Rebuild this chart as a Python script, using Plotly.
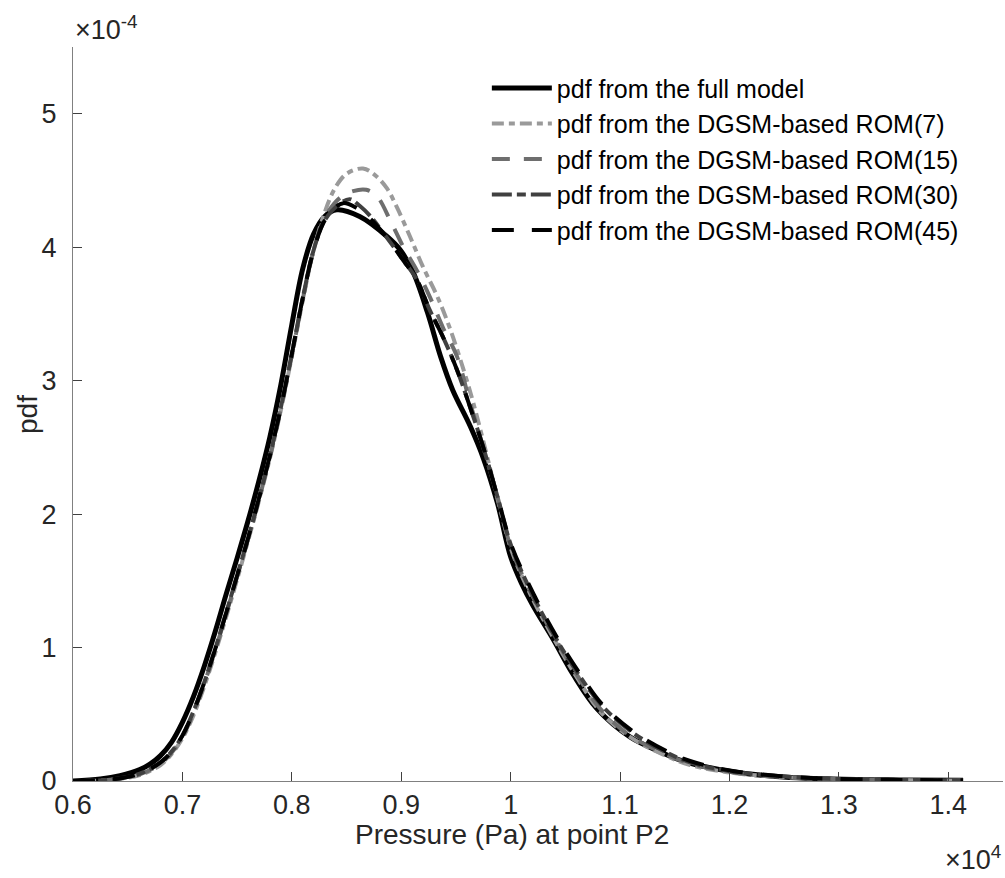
import plotly.graph_objects as go

# x in units of 1e4 Pa, y (pdf) in units of 1e-4
full_x = [0.600, 0.625, 0.643, 0.661, 0.671, 0.680, 0.690, 0.700, 0.710, 0.720, 0.730, 0.740, 0.750,
          0.760, 0.770, 0.780, 0.790, 0.800, 0.810, 0.820, 0.830, 0.841, 0.862, 0.887, 0.899, 0.911,
          0.924, 0.936, 0.947, 0.963, 0.975, 0.988, 1.000, 1.010, 1.020, 1.039, 1.057, 1.079, 1.109,
          1.139, 1.161, 1.203, 1.249, 1.295, 1.356, 1.4135]
full_y = [0.0, 0.015, 0.04, 0.085, 0.13, 0.19, 0.29, 0.44, 0.63, 0.86, 1.12, 1.40, 1.67,
          1.95, 2.25, 2.58, 2.97, 3.42, 3.84, 4.10, 4.23, 4.28, 4.23, 4.08, 3.98, 3.81,
          3.51, 3.18, 2.93, 2.66, 2.42, 2.08, 1.68, 1.48, 1.32, 1.06, 0.80, 0.54, 0.33,
          0.21, 0.14, 0.07, 0.03, 0.015, 0.008, 0.005]

rom7_x = [0.600, 0.634, 0.661, 0.680, 0.690, 0.700, 0.710, 0.720, 0.730, 0.740, 0.750, 0.760, 0.770,
          0.780, 0.790, 0.800, 0.810, 0.820, 0.830, 0.840, 0.850, 0.865, 0.876, 0.887, 0.896, 0.908,
          0.920, 0.933, 0.945, 0.957, 0.966, 0.981, 0.990, 1.002, 1.021, 1.042, 1.061, 1.082, 1.109,
          1.139, 1.164, 1.203, 1.249, 1.295, 1.356, 1.4135]
rom7_y = [0.0, 0.008, 0.045, 0.12, 0.20, 0.32, 0.49, 0.71, 0.96, 1.23, 1.51, 1.80, 2.10,
          2.42, 2.78, 3.18, 3.60, 3.98, 4.26, 4.45, 4.55, 4.59, 4.54, 4.44, 4.30, 4.08,
          3.85, 3.63, 3.38, 3.08, 2.83, 2.35, 2.05, 1.70, 1.35, 1.03, 0.77, 0.52, 0.33,
          0.20, 0.12, 0.06, 0.03, 0.014, 0.007, 0.004]

rom15_x = [0.600, 0.634, 0.661, 0.680, 0.690, 0.700, 0.710, 0.720, 0.730, 0.740, 0.750, 0.760, 0.770,
           0.780, 0.790, 0.800, 0.810, 0.820, 0.830, 0.844, 0.856, 0.868, 0.878, 0.890, 0.902, 0.914,
           0.926, 0.938, 0.951, 0.963, 0.975, 0.988, 1.001, 1.021, 1.042, 1.061, 1.082, 1.109, 1.139,
           1.164, 1.203, 1.249, 1.295, 1.356, 1.4135]
rom15_y = [0.0, 0.01, 0.05, 0.13, 0.21, 0.33, 0.51, 0.73, 0.98, 1.25, 1.53, 1.81, 2.11,
           2.43, 2.79, 3.19, 3.61, 3.98, 4.22, 4.37, 4.42, 4.43, 4.38, 4.20, 4.00, 3.83,
           3.63, 3.40, 3.18, 2.83, 2.50, 2.13, 1.73, 1.37, 1.05, 0.79, 0.54, 0.34, 0.21,
           0.13, 0.065, 0.03, 0.015, 0.008, 0.005]

rom30_x = [0.600, 0.634, 0.661, 0.680, 0.690, 0.700, 0.710, 0.720, 0.730, 0.740, 0.750, 0.760, 0.770,
           0.780, 0.790, 0.800, 0.810, 0.820, 0.830, 0.843, 0.853, 0.862, 0.872, 0.887, 0.902, 0.914,
           0.926, 0.938, 0.951, 0.963, 0.975, 0.988, 1.001, 1.021, 1.042, 1.062, 1.084, 1.112, 1.141,
           1.164, 1.203, 1.249, 1.295, 1.356, 1.4135]
rom30_y = [0.0, 0.01, 0.055, 0.14, 0.22, 0.34, 0.52, 0.74, 0.99, 1.26, 1.54, 1.82, 2.12,
           2.44, 2.80, 3.20, 3.62, 3.98, 4.20, 4.32, 4.36, 4.31, 4.23, 4.07, 3.90, 3.76,
           3.53, 3.33, 3.08, 2.80, 2.50, 2.13, 1.75, 1.38, 1.06, 0.80, 0.56, 0.36, 0.22,
           0.14, 0.07, 0.035, 0.016, 0.008, 0.005]

rom45_x = [0.600, 0.634, 0.661, 0.680, 0.690, 0.700, 0.710, 0.720, 0.730, 0.740, 0.750, 0.760, 0.770,
           0.780, 0.790, 0.800, 0.810, 0.820, 0.830, 0.840, 0.847, 0.858, 0.872, 0.887, 0.902, 0.914,
           0.926, 0.938, 0.951, 0.963, 0.975, 0.988, 1.001, 1.021, 1.042, 1.062, 1.084, 1.112, 1.141,
           1.164, 1.203, 1.249, 1.295, 1.356, 1.4135]
rom45_y = [0.0, 0.01, 0.055, 0.14, 0.22, 0.34, 0.52, 0.74, 0.99, 1.26, 1.54, 1.82, 2.12,
           2.44, 2.80, 3.20, 3.62, 3.98, 4.20, 4.30, 4.33, 4.30, 4.21, 4.07, 3.90, 3.76,
           3.53, 3.33, 3.08, 2.80, 2.50, 2.13, 1.76, 1.40, 1.08, 0.82, 0.57, 0.37, 0.23,
           0.15, 0.075, 0.035, 0.016, 0.008, 0.005]

series_names = ["pdf from the full model",
                "pdf from the DGSM-based ROM(7)",
                "pdf from the DGSM-based ROM(15)",
                "pdf from the DGSM-based ROM(30)",
                "pdf from the DGSM-based ROM(45)"]

x_tickvals = [0.6, 0.7, 0.8, 0.9, 1.0, 1.1, 1.2, 1.3, 1.4]
x_ticktext = ["0.6", "0.7", "0.8", "0.9", "1", "1.1", "1.2", "1.3", "1.4"]
y_tickvals = [0, 1, 2, 3, 4, 5]
y_ticktext = ["0", "1", "2", "3", "4", "5"]

styles = [
    dict(color="#000000", width=5, dash="solid"),
    dict(color="#9a9a9a", width=4, dash="12px,5px,6px,5px"),
    dict(color="#6e6e6e", width=4, dash="18px,14px"),
    dict(color="#404040", width=4, dash="20px,5px,9px,5px"),
    dict(color="#000000", width=4, dash="22px,18px"),
]
data = [(full_x, full_y), (rom7_x, rom7_y), (rom15_x, rom15_y), (rom30_x, rom30_y), (rom45_x, rom45_y)]

fig = go.Figure()
for i in range(5):
    xs, ys = data[i]
    fig.add_trace(go.Scatter(x=xs, y=ys, mode="lines", name=series_names[i],
                             line=dict(shape="spline", smoothing=1.0, **styles[i])))

FONT = "Liberation Sans, Arial, Helvetica, sans-serif"
fig.update_layout(
    width=1005, height=878,
    margin=dict(l=73, r=2, t=47, b=97),
    paper_bgcolor="white", plot_bgcolor="white",
    font=dict(family=FONT, size=26, color="#262626"),
    showlegend=True,
    legend=dict(x=0.445, y=0.975, xanchor="left", yanchor="top", bgcolor="rgba(0,0,0,0)",
                font=dict(size=25, color="#000000", family=FONT), tracegroupgap=0,
                itemwidth=60),
    xaxis=dict(range=[0.6, 1.45], tickvals=x_tickvals, ticktext=x_ticktext,
               showline=True, linecolor="#808080", linewidth=1, mirror=False,
               ticks="inside", ticklen=9, tickcolor="#404040", tickwidth=1,
               showgrid=False, zeroline=False,
               tickfont=dict(size=27, color="#262626")),
    yaxis=dict(range=[0, 5.5], tickvals=y_tickvals, ticktext=y_ticktext,
               showline=True, linecolor="#808080", linewidth=1, mirror=False,
               ticks="inside", ticklen=9, tickcolor="#404040", tickwidth=1,
               showgrid=False, zeroline=False, ticklabelstandoff=10,
               tickfont=dict(size=27, color="#262626")),
    annotations=[
        dict(text="Pressure (Pa) at point P2", xref="paper", yref="paper", x=0.472, y=0.0,
             xanchor="center", yanchor="middle", showarrow=False,
             font=dict(size=28, color="#262626"), yshift=-53),
        dict(text="pdf", xref="paper", yref="paper", x=-0.0495, y=0.5,
             xanchor="center", yanchor="middle", showarrow=False, textangle=-90,
             font=dict(size=28, color="#262626")),
        dict(text="×10<sup>-4</sup>", xref="paper", yref="paper", x=0.0, y=1.0,
             xanchor="left", yanchor="bottom", showarrow=False,
             font=dict(size=27, color="#262626"), yshift=0),
        dict(text="×10<sup>4</sup>", xref="paper", yref="paper", x=1.0, y=0.0,
             xanchor="right", yanchor="top", showarrow=False,
             font=dict(size=27, color="#262626"), yshift=-58),
    ],
)

fig.write_html("out.html")
